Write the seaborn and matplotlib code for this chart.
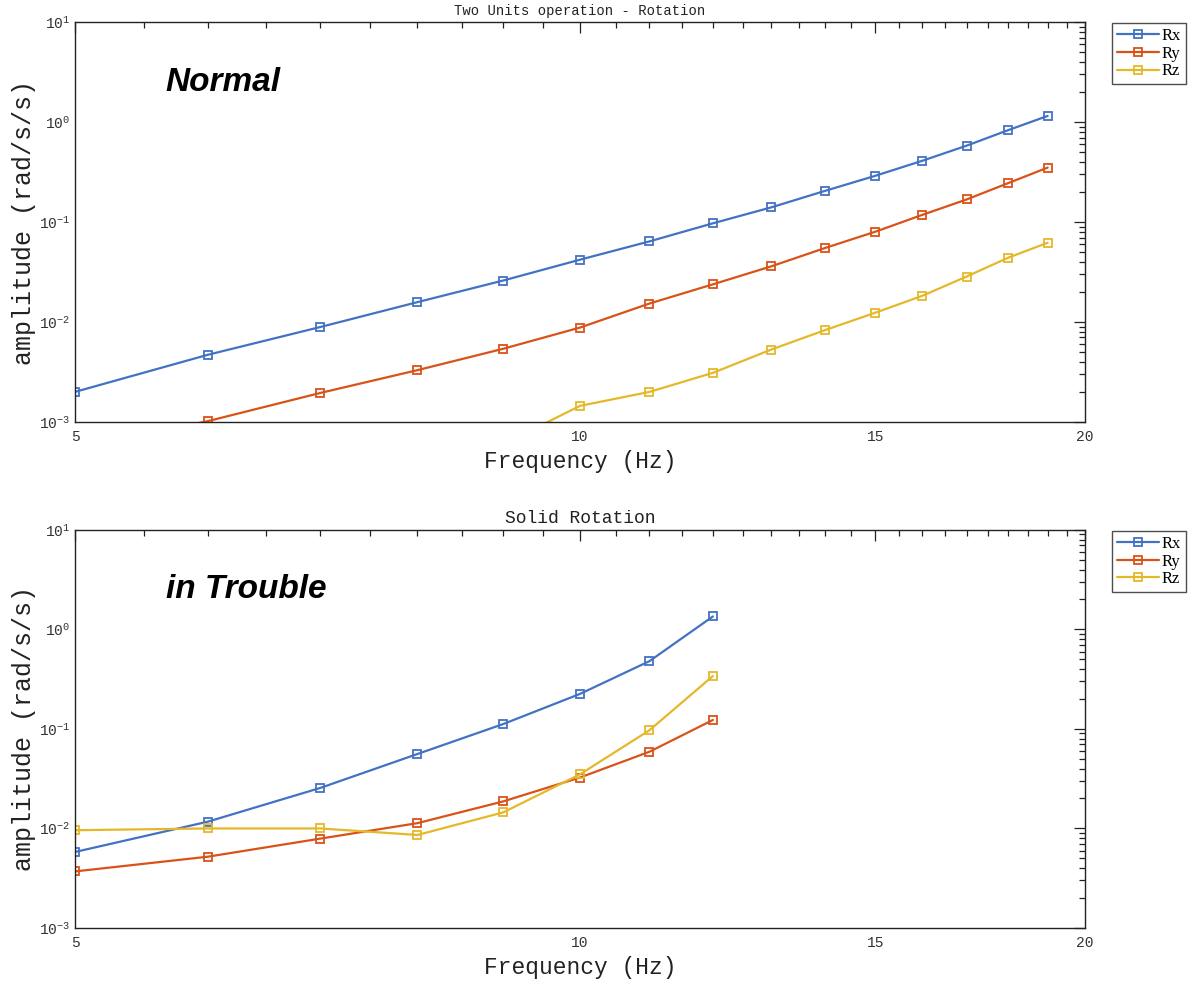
import numpy as np
import pandas as pd
import matplotlib
matplotlib.use("Agg")
import matplotlib.pyplot as plt
import matplotlib.ticker as mticker
import seaborn as sns

# ---- data ----
freq_top = [5, 6, 7, 8, 9, 10, 11, 12, 13, 14, 15, 16, 17, 18, 19]
rx_top = [0.0020, 0.0047, 0.0089, 0.0158, 0.0260, 0.042, 0.064, 0.097, 0.140, 0.205, 0.290, 0.410, 0.580, 0.830, 1.15]
ry_top = [0.00055, 0.00102, 0.00195, 0.0033, 0.0054, 0.0088, 0.0153, 0.0238, 0.036, 0.055, 0.080, 0.118, 0.168, 0.245, 0.350]
rz_top = [0.00015, 0.00020, 0.00028, 0.00040, 0.00060, 0.00145, 0.0020, 0.0031, 0.0053, 0.0083, 0.0124, 0.0183, 0.0285, 0.0440, 0.0620]

freq_bot = [5, 6, 7, 8, 9, 10, 11, 12]
rx_bot = [0.0058, 0.0117, 0.0255, 0.056, 0.112, 0.225, 0.48, 1.35]
ry_bot = [0.0037, 0.0052, 0.0079, 0.0113, 0.0187, 0.0325, 0.059, 0.123]
rz_bot = [0.0096, 0.0100, 0.0100, 0.0086, 0.0145, 0.0350, 0.097, 0.340]

series_names = ["Rx", "Ry", "Rz"]
colors = ["#4372C4", "#D95319", "#E5B82A"]
x_major = [5, 10, 15, 20]
y_major = [1e-3, 1e-2, 1e-1, 1e0, 1e1]
y_labels = [r"$10^{-3}$", r"$10^{-2}$", r"$10^{-1}$", r"$10^{0}$", r"$10^{1}$"]

sns.set_style("white")
plt.rcParams["font.family"] = ["Liberation Mono", "DejaVu Sans Mono"]
plt.rcParams["mathtext.fontset"] = "custom"
plt.rcParams["mathtext.rm"] = "Liberation Mono"
plt.rcParams["mathtext.default"] = "rm"
plt.rcParams["text.color"] = "black"
plt.rcParams["axes.labelcolor"] = "#222222"

fig = plt.figure(figsize=(11.96, 9.83), dpi=100)
ax1 = fig.add_axes([0.0627, 0.5707, 0.8445, 0.4069])
ax2 = fig.add_axes([0.0627, 0.0560, 0.8445, 0.4049])


def draw(ax, freq, ys, title, title_size, note):
    for name, y, c in zip(series_names, ys, colors):
        df = pd.DataFrame({"f": freq, "a": y})
        sns.lineplot(data=df, x="f", y="a", ax=ax, color=c, lw=1.6,
                     marker="s", markersize=6, markerfacecolor="none",
                     markeredgecolor=c, markeredgewidth=1.3, label=name)
    ax.set_xscale("log")
    ax.set_yscale("log")
    ax.set_xlim(5, 20)
    ax.set_ylim(1e-3, 1e1)
    ax.xaxis.set_major_locator(mticker.FixedLocator(x_major))
    ax.xaxis.set_major_formatter(mticker.FixedFormatter([str(v) for v in x_major]))
    ax.xaxis.set_minor_locator(mticker.MultipleLocator(0.5))
    ax.xaxis.set_minor_formatter(mticker.NullFormatter())
    ax.yaxis.set_major_locator(mticker.FixedLocator(y_major))
    ax.yaxis.set_major_formatter(mticker.FixedFormatter(y_labels))
    ax.yaxis.set_minor_locator(mticker.LogLocator(base=10, subs=np.arange(2, 10)))
    ax.yaxis.set_minor_formatter(mticker.NullFormatter())
    ax.tick_params(which="both", direction="in", top=True, right=True,
                   color="#222222", width=0.9)
    ax.tick_params(which="major", length=8, labelsize=10.5, colors="#222222",
                   labelcolor="#333333")
    ax.tick_params(axis="x", which="major", pad=6)
    ax.tick_params(which="minor", length=4)
    for s in ax.spines.values():
        s.set_color("#222222")
        s.set_linewidth(1.0)
    ax.set_xlabel("Frequency (Hz)", fontsize=16.5, labelpad=4)
    ax.set_ylabel("amplitude (rad/s/s)", fontsize=18, labelpad=2)
    ax.set_title(title, fontsize=title_size, pad=5, color="#222222")
    ax.text(0.09, 0.85, note, transform=ax.transAxes, fontsize=24,
            fontweight="bold", fontstyle="italic", family="Liberation Sans",
            va="center", ha="left", color="black")
    ax.legend_.remove()


draw(ax1, freq_top, [rx_top, ry_top, rz_top], "Two Units operation - Rotation", 10, "Normal")
draw(ax2, freq_bot, [rx_bot, ry_bot, rz_bot], "Solid Rotation", 13, "in Trouble")

for ax, ytop in [(ax1, 1 - 23 / 983), (ax2, 1 - 531 / 983)]:
    h, l = ax.get_legend_handles_labels()
    fig.legend(h, l, loc="upper left", bbox_to_anchor=(1112 / 1196, ytop),
               prop={"family": "Liberation Serif", "size": 12},
               frameon=True, fancybox=False, edgecolor="#222222",
               handlelength=2.5, handletextpad=0.2, borderpad=0.3,
               labelspacing=0.1, borderaxespad=0.0)

fig.savefig("out.png", dpi=100, facecolor="white")
